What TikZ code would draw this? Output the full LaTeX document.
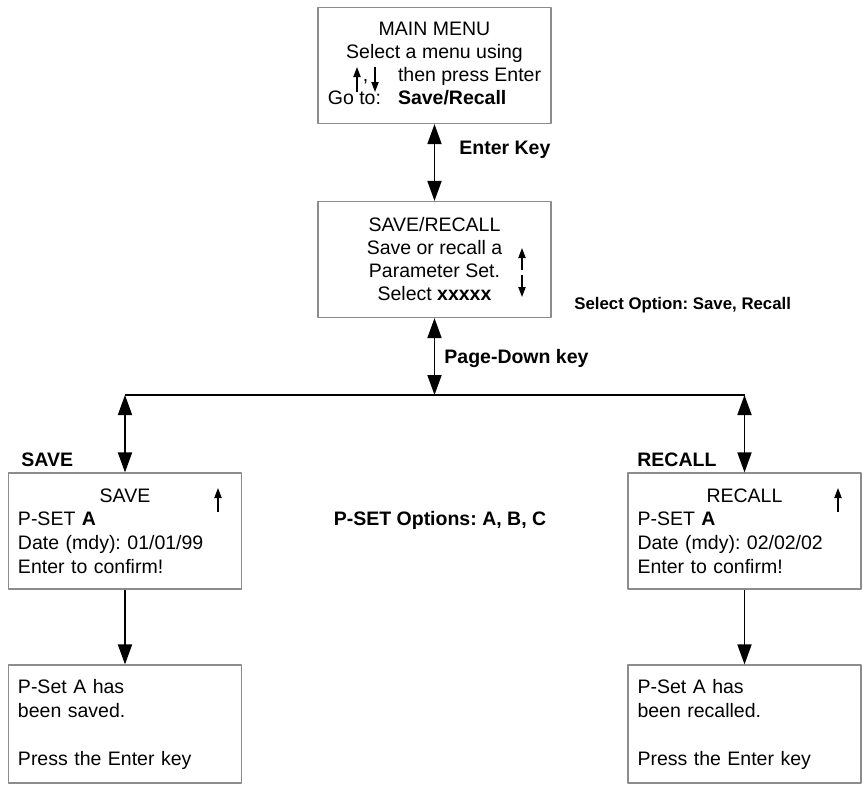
\documentclass[tikz,border=0pt]{standalone}
\usepackage{fontspec}
\setmainfont{Liberation Sans}
\frenchspacing
\usetikzlibrary{arrows.meta}

\begin{document}
\begin{tikzpicture}[x=0.5pt, y=-0.5pt, line join=round,
	screen/.style={draw=black!45, line width=0.6pt, minimum width=116.5pt, minimum height=58pt, inner sep=0pt, font=\fontsize{9.75}{11.5}\selectfont},
	lscreen/.style={screen, text width=107pt, inner xsep=4.75pt, align=left, font=\fontsize{9.75}{11.8}\selectfont},
	lbl/.style={inner sep=0pt, font=\fontsize{9.75}{11.5}\selectfont\bfseries},
	keyarrow/.style={line width=0.7pt, -{Triangle[length=5pt,width=3.6pt]}},
	link/.style={line width=0.9pt, {Triangle[length=10pt,width=7pt]}-{Triangle[length=10pt,width=7pt]}},
	onelink/.style={line width=0.9pt, -{Triangle[length=10pt,width=7pt]}}]
	% Bounding box
	\useasboundingbox (0,0) rectangle (863,784);
	
	% Main menu and Save/Recall screens
	\node[screen] (main) at (434.5,65.5) {\begin{tabular}{@{}l@{\hspace{8.5pt}}l@{}}
			\multicolumn{2}{c}{MAIN MENU}\\
			\multicolumn{2}{c}{Select a menu using}\\
			\hspace*{17.5pt}, & then press Enter\\
			Go to: & \textbf{Save/Recall}
	\end{tabular}};
	\draw[keyarrow] (357,92)--(357,67);
	\draw[keyarrow] (375,67)--(375,92);
	\node[screen, align=center] (sr) at (434.5,259.5) {SAVE/RECALL\\Save or recall a\\Parameter Set.\\Select \textbf{xxxxx}};
	\draw[keyarrow] (522,270)--(522,248);
	\draw[keyarrow] (522,275)--(522,297);
	
	% Save and Recall screens
	\node[lscreen] (save) at (125,531) {\makebox[107pt][c]{SAVE}\\P-SET \textbf{A}\\Date (mdy): 01/01/99\\Enter to confirm!};
	\draw[keyarrow] (218,512)--(218,488);
	\node[lscreen] (recall) at (744.5,531) {\makebox[107pt][c]{RECALL}\\P-SET \textbf{A}\\Date (mdy): 02/02/02\\Enter to confirm!};
	\draw[keyarrow] (838,512)--(838,488);
	
	% Confirmation screens
	\node[lscreen, minimum height=59pt, font=\fontsize{9.75}{12}\selectfont] (saved) at (125,724) {P-Set A has\\been saved.\\[12pt]Press the Enter key};
	\node[lscreen, minimum height=59pt, font=\fontsize{9.75}{12}\selectfont] (recalled) at (744.5,724) {P-Set A has\\been recalled.\\[12pt]Press the Enter key};
	
	% Labels
	\node[lbl, anchor=west] (enterkey) at (459,150) {Enter Key};
	\node[lbl, anchor=west] (pgdown) at (444,358) {Page-Down key};
	\node[lbl, anchor=west, font=\fontsize{8.4}{10}\selectfont\bfseries] (selopt) at (574,305) {Select Option: Save, Recall};
	\node[lbl, anchor=west] (savelbl) at (21,460) {SAVE};
	\node[lbl, anchor=west] (recalllbl) at (637,460) {RECALL};
	\node[lbl] (psetopt) at (440,520) {P-SET Options: A, B, C};
	
	% Connectors
	\coordinate (split) at (434.5,395);
	\coordinate (lsplit) at (125,395);
	\coordinate (rsplit) at (744.5,395);
	\draw[line width=0.6pt] (lsplit)--(rsplit);
	\draw[link] (main.south)--(sr.north);
	\draw[link] (sr.south)--(split);
	\draw[link] (lsplit)--(save.north);
	\draw[link] (rsplit)--(recall.north);
	\draw[onelink] (save.south)--(saved.north);
	\draw[onelink] (recall.south)--(recalled.north);
\end{tikzpicture}
\end{document}
